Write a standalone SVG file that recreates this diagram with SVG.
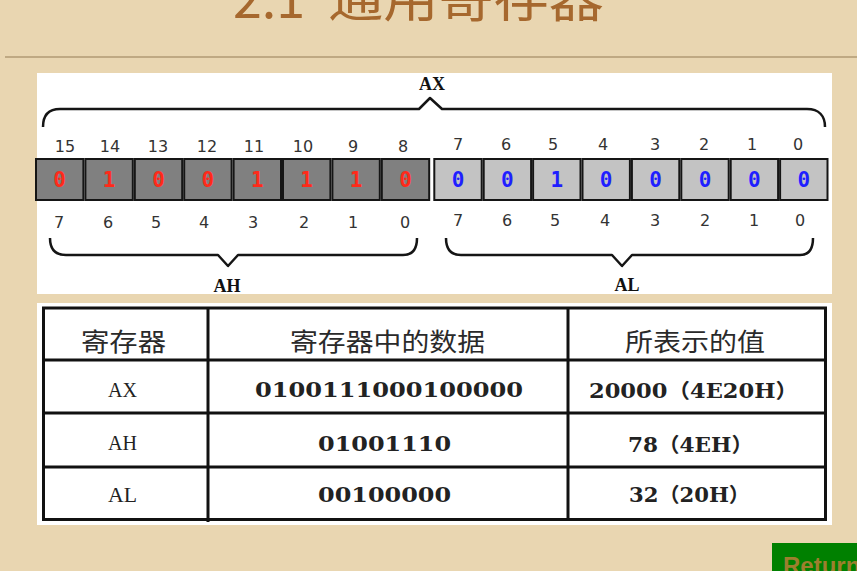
<svg xmlns="http://www.w3.org/2000/svg" width="857" height="571" viewBox="0 0 857 571">
<style>
.num{font-family:"DejaVu Sans","Liberation Sans",sans-serif;font-size:16px;fill:#333;text-anchor:middle}
.bitH{font-family:"DejaVu Sans Mono","Liberation Mono",monospace;font-weight:bold;font-size:21px;fill:#ff2a1a;text-anchor:middle}
.bitL{font-family:"DejaVu Sans Mono","Liberation Mono",monospace;font-weight:bold;font-size:21px;fill:#1f1fff;text-anchor:middle}
.cellH{fill:#808080;stroke:#151515;stroke-width:2}
.cellL{fill:#c3c3c3;stroke:#151515;stroke-width:2}
.brace{fill:none;stroke:#151515;stroke-width:2.5;stroke-linejoin:round}
.lab{font-family:"Liberation Serif","Times New Roman",serif;font-weight:bold;font-size:18px;fill:#111;text-anchor:middle}
.hd{font-family:"Noto Sans CJK SC","Noto Sans",sans-serif;font-size:25px;fill:#2a2a2a}
.reg{font-family:"Liberation Serif","Times New Roman",serif;font-size:21px;fill:#222}
.dat{font-family:"DejaVu Serif","Noto Sans CJK SC",serif;font-weight:bold;font-size:20px;fill:#222}
.tl{stroke:#111;stroke-width:3;fill:none}
</style>
<rect x="0" y="0" width="857" height="571" fill="#e9d6b1"/>
<g id="title">
<text x="233" y="18" font-family="'Noto Sans CJK SC','Noto Sans',sans-serif" font-size="52" fill="#a6682e">2.1</text>
<text x="328" y="17" textLength="276" lengthAdjust="spacingAndGlyphs" font-family="'Noto Sans CJK SC',sans-serif" font-size="52" fill="#a6682e">通用寄存器</text>
</g>
<line x1="5" y1="57" x2="857" y2="57" stroke="#b09a74" stroke-width="1.5"/>
<rect x="37" y="73" width="795" height="221" fill="#ffffff"/>
<rect x="37" y="303" width="795" height="222" fill="#ffffff"/>
<g id="ah-cells">
<rect class="cellH" x="36" y="159" width="47.4" height="41"/>
<rect class="cellH" x="85.4" y="159" width="47.4" height="41"/>
<rect class="cellH" x="134.8" y="159" width="47.4" height="41"/>
<rect class="cellH" x="184.2" y="159" width="47.4" height="41"/>
<rect class="cellH" x="233.6" y="159" width="47.4" height="41"/>
<rect class="cellH" x="283" y="159" width="47.4" height="41"/>
<rect class="cellH" x="332.4" y="159" width="47.4" height="41"/>
<rect class="cellH" x="381.8" y="159" width="47.4" height="41"/>
<text class="bitH" x="59.7" y="187">0</text>
<text class="bitH" x="109.1" y="187">1</text>
<text class="bitH" x="158.5" y="187">0</text>
<text class="bitH" x="207.9" y="187">0</text>
<text class="bitH" x="257.3" y="187">1</text>
<text class="bitH" x="306.7" y="187">1</text>
<text class="bitH" x="356.1" y="187">1</text>
<text class="bitH" x="405.5" y="187">0</text>
</g>
<g id="al-cells">
<rect class="cellL" x="434.3" y="159" width="47.4" height="41"/>
<rect class="cellL" x="483.7" y="159" width="47.4" height="41"/>
<rect class="cellL" x="533.1" y="159" width="47.4" height="41"/>
<rect class="cellL" x="582.5" y="159" width="47.4" height="41"/>
<rect class="cellL" x="631.9" y="159" width="47.4" height="41"/>
<rect class="cellL" x="681.3" y="159" width="47.4" height="41"/>
<rect class="cellL" x="730.7" y="159" width="47.4" height="41"/>
<rect class="cellL" x="780.1" y="159" width="47.4" height="41"/>
<text class="bitL" x="458" y="187">0</text>
<text class="bitL" x="507.4" y="187">0</text>
<text class="bitL" x="556.8" y="187">1</text>
<text class="bitL" x="606.2" y="187">0</text>
<text class="bitL" x="655.6" y="187">0</text>
<text class="bitL" x="705" y="187">0</text>
<text class="bitL" x="754.4" y="187">0</text>
<text class="bitL" x="803.8" y="187">0</text>
</g>
<g id="bit-numbers">
<text class="num" x="65" y="152">15</text>
<text class="num" x="110" y="152">14</text>
<text class="num" x="158" y="152">13</text>
<text class="num" x="207" y="152">12</text>
<text class="num" x="254" y="152">11</text>
<text class="num" x="303" y="152">10</text>
<text class="num" x="353" y="152">9</text>
<text class="num" x="403" y="152">8</text>
<text class="num" x="458" y="149.5">7</text>
<text class="num" x="506" y="149.5">6</text>
<text class="num" x="553" y="149.5">5</text>
<text class="num" x="603" y="149.5">4</text>
<text class="num" x="655" y="149.5">3</text>
<text class="num" x="704" y="149.5">2</text>
<text class="num" x="752" y="149.5">1</text>
<text class="num" x="798" y="149.5">0</text>
<text class="num" x="59" y="227.5">7</text>
<text class="num" x="108" y="227.5">6</text>
<text class="num" x="156" y="227.5">5</text>
<text class="num" x="204" y="227.5">4</text>
<text class="num" x="253" y="227.5">3</text>
<text class="num" x="304" y="227.5">2</text>
<text class="num" x="353" y="227.5">1</text>
<text class="num" x="405" y="227.5">0</text>
<text class="num" x="458" y="225.5">7</text>
<text class="num" x="507" y="225.5">6</text>
<text class="num" x="555" y="225.5">5</text>
<text class="num" x="605" y="225.5">4</text>
<text class="num" x="655" y="225.5">3</text>
<text class="num" x="705" y="225.5">2</text>
<text class="num" x="754" y="225.5">1</text>
<text class="num" x="800" y="225.5">0</text>
</g>
<g id="connectors">
<path class="brace" d="M43,127 C43,116 48,109 60,109 L419,109 L430,98 L442,109 L807,109 C819,109 825,116 825,127"/>
<path class="brace" d="M50,238 C50,249 55,255 66,255 L218,255 L228,266 L238,255 L403,255 C413,255 417,249 417,238"/>
<path class="brace" d="M446,238 C446,249 451,255 461,255 L612,255 L622,266 L632,255 L800,255 C809,255 813,249 813,238"/>
</g>
<g id="labels">
<text class="lab" x="432" y="90">AX</text>
<text class="lab" x="227" y="292">AH</text>
<text class="lab" x="627" y="291">AL</text>
</g>
<g id="table">
<rect class="tl" x="43.5" y="308" width="782" height="211.5"/>
<line class="tl" x1="208" y1="308" x2="208" y2="522"/>
<line class="tl" x1="568" y1="308" x2="568" y2="519.5"/>
<line class="tl" x1="43.5" y1="360" x2="825.5" y2="360"/>
<line class="tl" x1="43.5" y1="413" x2="825.5" y2="413"/>
<line class="tl" x1="43.5" y1="467" x2="825.5" y2="467"/>
<text class="hd" x="81" y="351" textLength="85" lengthAdjust="spacingAndGlyphs">寄存器</text>
<text class="hd" x="290" y="351" textLength="195" lengthAdjust="spacingAndGlyphs">寄存器中的数据</text>
<text class="hd" x="625" y="351" textLength="140" lengthAdjust="spacingAndGlyphs">所表示的值</text>
<text class="reg" x="108" y="396.5" textLength="29" lengthAdjust="spacingAndGlyphs">AX</text>
<text class="reg" x="108" y="450" textLength="29" lengthAdjust="spacingAndGlyphs">AH</text>
<text class="reg" x="108" y="501.5" textLength="29" lengthAdjust="spacingAndGlyphs">AL</text>
<text class="dat" x="255" y="397" textLength="268" lengthAdjust="spacingAndGlyphs">0100111000100000</text>
<text class="dat" x="318" y="451" textLength="133" lengthAdjust="spacingAndGlyphs">01001110</text>
<text class="dat" x="318" y="502" textLength="133" lengthAdjust="spacingAndGlyphs">00100000</text>
<text class="dat" x="589" y="397.5" textLength="209" lengthAdjust="spacingAndGlyphs">20000（4E20H）</text>
<text class="dat" x="628" y="451.5" textLength="125" lengthAdjust="spacingAndGlyphs">78（4EH）</text>
<text class="dat" x="629" y="502" textLength="121" lengthAdjust="spacingAndGlyphs">32（20H）</text>
</g>
<g id="return-button">
<rect x="772" y="543" width="85" height="28" fill="#008000"/>
<text x="783" y="574" font-family="'Liberation Sans',Arial,sans-serif" font-size="24" font-weight="bold" fill="#9c7f2e">Return</text>
</g>
</svg>
